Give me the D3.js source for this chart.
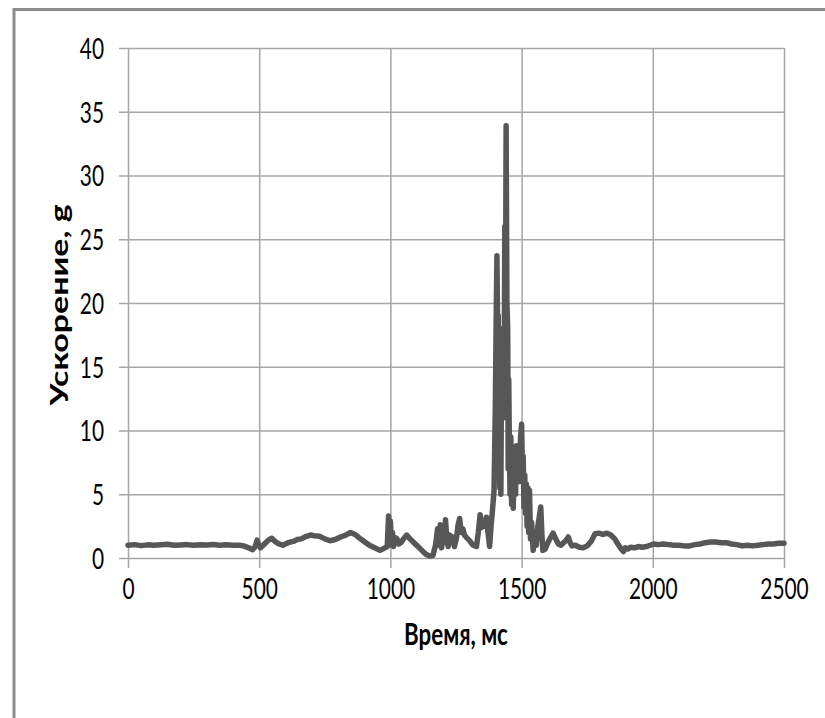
<!DOCTYPE html>
<html>
<head>
<meta charset="utf-8">
<script src="https://cdn.jsdelivr.net/npm/d3@7"></script>
<style>
  html, body { margin: 0; padding: 0; background: #fff; }
  svg { display: block; }
</style>
</head>
<body>
<script>
"use strict";

// Data

const timeMs = [
    0, 25, 50, 75, 100, 125, 150, 175, 200, 225, 250, 275, 300, 325, 350, 375, 400, 425,
    440, 460, 475, 485, 492, 498, 505, 520, 535, 548, 560, 575, 590, 610, 630, 645, 660,
    680, 695, 710, 730, 750, 770, 790, 810, 830, 848, 865, 880, 900, 920, 940, 960, 975,
    988, 993, 997, 1000, 1004, 1008, 1012, 1018, 1025, 1032, 1040, 1050, 1062, 1075, 1090,
    1105, 1120, 1135, 1150, 1162, 1172, 1180, 1186, 1190, 1195, 1200, 1205, 1210, 1215,
    1220, 1226, 1232, 1238, 1244, 1252, 1258, 1264, 1270, 1276, 1282, 1290, 1300, 1315,
    1328, 1335, 1342, 1348, 1354, 1360, 1366, 1372, 1378, 1384, 1390, 1395,
    1400, 1403, 1406, 1409, 1411, 1413, 1415, 1417, 1419, 1421, 1424, 1427, 1430, 1433,
    1436, 1438, 1441, 1444, 1447, 1449, 1451, 1453, 1456, 1459, 1462, 1465, 1468, 1471,
    1474, 1477, 1480, 1484, 1488, 1492, 1496, 1500, 1503, 1506, 1509, 1512, 1515, 1518,
    1521, 1524, 1527, 1530, 1534, 1538, 1544, 1550, 1556, 1562, 1568, 1573, 1577, 1581,
    1590, 1600, 1610, 1620, 1630, 1640, 1650, 1660, 1670, 1678, 1685, 1692, 1705, 1720,
    1735, 1750, 1765, 1780, 1795, 1810, 1825, 1840, 1855, 1870, 1880, 1888, 1895, 1905,
    1915, 1930, 1945, 1960, 1975, 1990, 2005, 2020, 2040, 2060, 2080, 2100, 2120, 2140,
    2160, 2180, 2200, 2220, 2240, 2260, 2280, 2300, 2320, 2340, 2360, 2380, 2400, 2420,
    2440, 2460, 2480, 2500
];

const accelG = [
    1.0, 1.05, 0.97, 1.03, 1.0, 1.04, 1.08, 1.0, 1.02, 1.05, 1.0, 1.03, 1.02, 1.06, 1.0, 1.03, 1.0, 1.0,
    0.95, 0.8, 0.65, 0.9, 1.4, 1.0, 0.8, 1.1, 1.4, 1.55, 1.3, 1.1, 1.0, 1.2, 1.3, 1.45, 1.5,
    1.7, 1.8, 1.75, 1.7, 1.5, 1.35, 1.45, 1.65, 1.8, 2.0, 1.85, 1.6, 1.3, 1.0, 0.8, 0.6, 0.75,
    0.9, 3.3, 1.0, 2.9, 1.1, 2.0, 0.9, 1.6, 1.5, 1.1, 1.2, 1.5, 1.8, 1.5, 1.2,
    0.9, 0.6, 0.3, 0.15, 0.2, 1.0, 2.3, 1.0, 2.6, 0.8, 2.2, 1.2, 3.0, 1.5,
    0.9, 1.8, 1.2, 1.65, 0.9, 1.6, 2.6, 3.1, 2.0, 2.3, 1.8, 1.6, 1.4, 1.0,
    0.9, 2.0, 3.4, 2.4, 2.9, 2.5, 3.2, 2.0, 0.9, 2.6, 4.0, 5.3,
    12, 18.5, 23.7, 17, 19, 8, 16, 5.5, 14, 5.0, 17, 12, 18, 11,
    26, 15, 33.9, 20, 18, 7, 14, 9.8, 5, 9.5, 4.2, 8, 3.9, 6,
    7.8, 5, 8.8, 7, 8.5, 6, 9.5, 10.5, 7, 8, 4, 6.5, 3.5, 5.8,
    2.5, 5.5, 2, 5.3, 1.5, 2.8, 0.6, 1.8, 1.0, 2.5, 3.3, 4.0, 2, 0.6,
    0.7, 1.2, 1.6, 1.95, 1.5, 1.1, 1.0, 1.2, 1.4, 1.65, 1.2, 0.95, 1.0, 0.85,
    0.8, 0.95, 1.3, 1.9, 1.95, 1.85, 1.95, 1.8, 1.5, 1.0, 0.7, 0.5, 0.8, 0.7,
    0.85, 0.8, 0.9, 0.85, 0.9, 1.0, 1.1, 1.05, 1.1, 1.05, 1.0, 1.0, 0.95, 0.95,
    1.05, 1.1, 1.2, 1.25, 1.25, 1.2, 1.2, 1.1, 1.05, 0.95, 1.0, 0.95, 1.0, 1.05,
    1.1, 1.1, 1.15, 1.15
];

const xTicks = [0, 500, 1000, 1500, 2000, 2500];
const yTicks = [0, 5, 10, 15, 20, 25, 30, 35, 40];

const xTitle = "Время, мс";
const yTitle = "Ускорение, g";

// Size parameters

const width = 825;
const height = 718;
const plotLeft = 128;
const plotRight = 784;
const plotTop = 48;
const plotBottom = 558;
const tickOut = 9;
const squeeze = 0.72;   // the reference text is narrow, squeeze it horizontally
const gridColor = "#a6a6a6";
const lineColor = "#575757";
const fontFamily = "Lato, 'Open Sans', 'DejaVu Sans', sans-serif";

const svg = d3.select("body")
    .append("svg")
    .attr("width", width)
    .attr("height", height);

// Frame (only top and left edges are visible)
svg.append("path")
    .attr("d", `M14,${height} L14,9.5 L${width},9.5`)
    .attr("fill", "none")
    .attr("stroke", "#8c8c8c")
    .attr("stroke-width", 3);

const x = d3.scaleLinear().domain([0, 2500]).range([plotLeft, plotRight]);
const y = d3.scaleLinear().domain([0, 40]).range([plotBottom, plotTop]);

/*********
 * Axes  *
 *********/

const yAxis = svg.append("g")
    .attr("transform", `translate(${plotLeft - tickOut},0)`)
    .call(d3.axisLeft(y)
        .tickValues(yTicks)
        .tickFormat(d3.format("d"))
        .tickSizeInner(-(plotRight - plotLeft + tickOut))
        .tickSizeOuter(0)
        .tickPadding(15));

const xAxis = svg.append("g")
    .attr("transform", `translate(0,${plotBottom + tickOut + 1})`)
    .call(d3.axisBottom(x)
        .tickValues(xTicks)
        .tickFormat(d3.format("d"))
        .tickSizeInner(-(plotBottom - plotTop + tickOut + 1))
        .tickSizeOuter(0)
        .tickPadding(10));

[xAxis, yAxis].forEach(g => {
    g.select(".domain").remove();
    g.selectAll(".tick line")
        .attr("stroke", gridColor)
        .attr("stroke-width", 1.5);
    g.selectAll(".tick text")
        .attr("fill", "#000")
        .attr("font-family", fontFamily)
        .attr("font-size", 29);
});

// squeeze tick labels around their anchor
yAxis.selectAll(".tick text")
    .attr("x", -15 / squeeze)
    .attr("dy", "0.36em")
    .attr("transform", `scale(${squeeze},1)`);

xAxis.selectAll(".tick text")
    .attr("dy", "0.71em")
    .attr("transform", `scale(${squeeze},1)`);

/********
 * Line *
 ********/

const points = timeMs.map((t, i) => [t, accelG[i]]);

svg.append("path")
    .datum(points)
    .attr("fill", "none")
    .attr("stroke", lineColor)
    .attr("stroke-width", 5.5)
    .attr("stroke-linejoin", "round")
    .attr("stroke-linecap", "round")
    .attr("d", d3.line()
        .x(d => x(d[0]))
        .y(d => y(d[1])));

/**********
 * Titles *
 **********/

svg.append("text")
    .attr("transform", `translate(${(plotLeft + plotRight) / 2},645) scale(${squeeze},1)`)
    .attr("text-anchor", "middle")
    .attr("font-family", fontFamily)
    .attr("font-weight", "bold")
    .attr("font-size", 31)
    .text(xTitle);

svg.append("text")
    .attr("transform", `translate(68,305) scale(${squeeze},1) rotate(-90)`)
    .attr("text-anchor", "middle")
    .attr("font-family", fontFamily)
    .attr("font-weight", "bold")
    .attr("font-size", 34)
    .text(yTitle);
</script>
</body>
</html>
